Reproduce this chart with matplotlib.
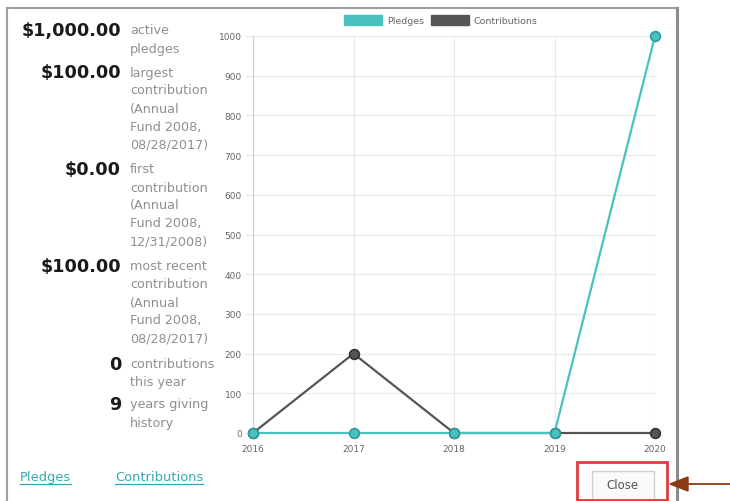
import matplotlib.pyplot as plt
from matplotlib.patches import Patch, Rectangle, Polygon
from matplotlib.lines import Line2D

# chart data
years = [2016, 2017, 2018, 2019, 2020]
pledges = [0, 0, 0, 0, 1000]
contributions = [0, 200, 0, 0, 0]
y_ticks = [0, 100, 200, 300, 400, 500, 600, 700, 800, 900, 1000]

# summary panel
amounts = ['$1,000.00', '$100.00', '$0.00', '$100.00', '0', '9']
captions = [
    ['active', 'pledges'],
    ['largest', 'contribution', '(Annual', 'Fund 2008,', '08/28/2017)'],
    ['first', 'contribution', '(Annual', 'Fund 2008,', '12/31/2008)'],
    ['most recent', 'contribution', '(Annual', 'Fund 2008,', '08/28/2017)'],
    ['contributions', 'this year'],
    ['years giving', 'history'],
]
links = ['Pledges', 'Contributions']

teal = '#4bc0c0'
teal_edge = '#2e9a9a'
dark = '#555555'

W, H = 730, 502
fig = plt.figure(figsize=(W / 100, H / 100), dpi=100)
fig.patch.set_facecolor('white')


def fx(x):
    return x / W


def fy(y):
    return 1 - y / H


# dialog frame
fig.add_artist(Line2D([fx(7), fx(677)], [fy(9), fy(9)], color='#a0a0a0', lw=1.5))
fig.add_artist(Line2D([fx(7), fx(7)], [fy(9), fy(502)], color='#a0a0a0', lw=1.5))
fig.add_artist(Line2D([fx(677), fx(677)], [fy(9), fy(502)], color='#8c8c8c', lw=2.2))

# left summary text
row_y = [31, 73, 170, 267, 365, 405]
for amt, cap, y0 in zip(amounts, captions, row_y):
    fig.text(fx(121), fy(y0), amt, ha='right', va='center', fontsize=12.7,
             fontweight='bold', color='#1a1a1a', family='DejaVu Sans')
    for i, line in enumerate(cap):
        fig.text(fx(130), fy(y0 + 18 * i), line, ha='left', va='center',
                 fontsize=9.2, color='#8f8f8f', family='DejaVu Sans')

# links
link_x = [20, 115]
for lx, name in zip(link_x, links):
    t = fig.text(fx(lx), fy(478), name, ha='left', va='center', fontsize=9.4,
                 color='#3aa6b4', family='DejaVu Sans')
    fig.canvas.draw()
    bb = t.get_window_extent()
    fig.add_artist(Line2D([bb.x0 / W, bb.x1 / W], [fy(485), fy(485)],
                          color='#3aa6b4', lw=0.9))

# chart
ax = fig.add_axes([fx(253), fy(434), fx(655) - fx(253), fy(37) - fy(434)])
ax.set_xlim(2016, 2020)
ax.set_ylim(0, 1000)
ax.plot(years, contributions, color=dark, lw=1.6, marker='o', ms=7,
        mfc=dark, mec='#333333', mew=1.2, clip_on=False, zorder=3)
ax.plot(years, pledges, color=teal, lw=1.6, marker='o', ms=7,
        mfc=teal, mec=teal_edge, mew=1.2, clip_on=False, zorder=4)
ax.set_xticks(years)
ax.set_yticks(y_ticks)
ax.grid(True, color='#e8e8e8', lw=0.8)
ax.set_axisbelow(True)
for s in ['top', 'right', 'bottom']:
    ax.spines[s].set_visible(False)
ax.spines['left'].set_color('#cfcfcf')
ax.tick_params(axis='y', length=6, color='#e8e8e8', labelsize=6.5,
               labelcolor='#666666', pad=2)
ax.tick_params(axis='x', length=0, labelsize=6.5, labelcolor='#666666', pad=8)

ax.legend(handles=[Patch(facecolor=teal, edgecolor=teal, label='Pledges'),
                   Patch(facecolor=dark, edgecolor=dark, label='Contributions')],
          loc='center', bbox_to_anchor=(fx(441), fy(21)), bbox_transform=fig.transFigure,
          ncol=2, frameon=False, fontsize=6.8, handlelength=4.0, handleheight=1.2,
          handletextpad=0.5, columnspacing=0.8, labelcolor='#666666')

# close button with highlight and arrow
fig.add_artist(Rectangle((fx(592), fy(502)), fx(654) - fx(592), fy(472) - fy(502),
                         facecolor='#fafafa', edgecolor='#d0d0d0', lw=1))
fig.text(fx(622), fy(486), 'Close', ha='center', va='center', fontsize=8.5,
         color='#555555', family='DejaVu Sans')
fig.add_artist(Rectangle((fx(577), fy(501)), fx(667) - fx(577), fy(463) - fy(501),
                         facecolor='none', edgecolor='#e0393e', lw=2))
fig.add_artist(Line2D([fx(684), fx(730)], [fy(485), fy(485)], color='#8b3a12', lw=1.3))
fig.add_artist(Polygon([(fx(670), fy(485)), (fx(688), fy(478)), (fx(688), fy(492))],
                       closed=True, color='#8b3a12', zorder=5))

fig.savefig('out.png', dpi=100)
